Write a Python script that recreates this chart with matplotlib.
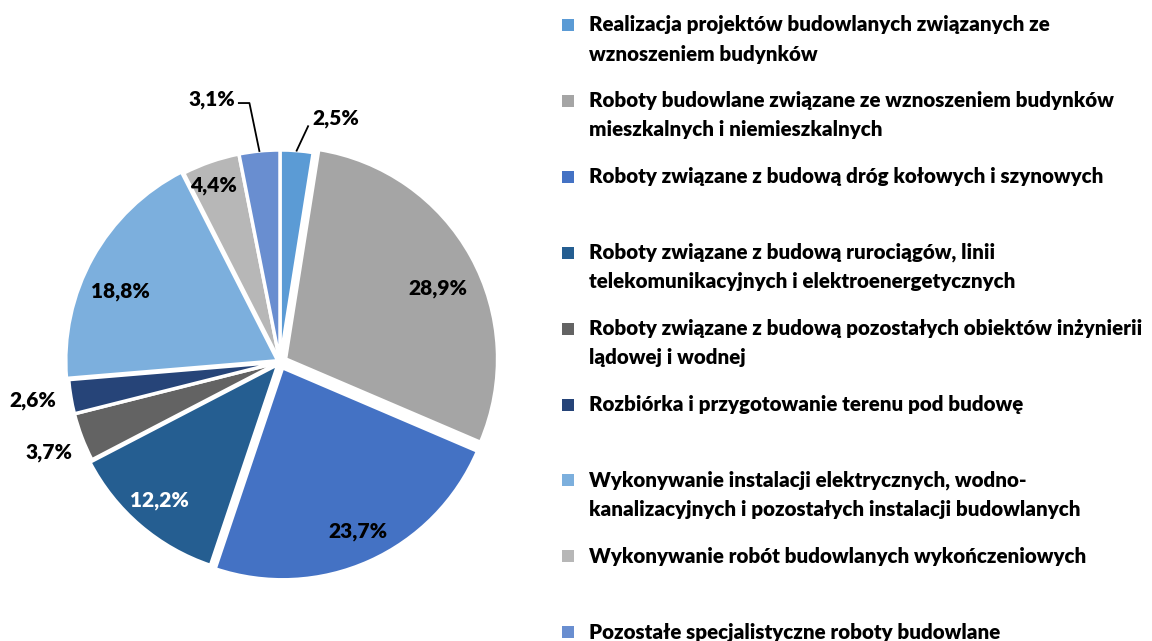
import numpy as np
import matplotlib.pyplot as plt
from matplotlib.patches import Rectangle

plt.rcParams['font.family'] = ['Lato', 'DejaVu Sans']
plt.rcParams['font.weight'] = 'heavy'

categories = [
    'Realizacja projektów budowlanych związanych ze\nwznoszeniem budynków',
    'Roboty budowlane związane ze wznoszeniem budynków\nmieszkalnych i niemieszkalnych',
    'Roboty związane z budową dróg kołowych i szynowych',
    'Roboty związane z budową rurociągów, linii\ntelekomunikacyjnych i elektroenergetycznych',
    'Roboty związane z budową pozostałych obiektów inżynierii\nlądowej i wodnej',
    'Rozbiórka i przygotowanie terenu pod budowę',
    'Wykonywanie instalacji elektrycznych, wodno-\nkanalizacyjnych i pozostałych instalacji budowlanych',
    'Wykonywanie robót budowlanych wykończeniowych',
    'Pozostałe specjalistyczne roboty budowlane',
]
shares = [2.5, 28.9, 23.7, 12.2, 3.7, 2.6, 18.8, 4.4, 3.1]
colors = ['#5B9BD5', '#A5A5A5', '#4472C4', '#255E91', '#636363',
          '#264478', '#7CAFDD', '#B7B7B7', '#698ED0']
text_colors = ['black', 'black', 'black', 'white', 'black',
               'black', 'black', 'black', 'black']

# styling per slice
explode = [0, 0.03, 0.03, 0.015, 0, 0, 0.012, 0, 0]
label_r = [1.18, 0.79, 0.85, 0.85, 1.17, 1.18, 0.81, 0.89, 1.28]
label_da = [-8.5, -4, 0.5, -0.5, 0.5, -0.7, 5.4, 1.6, 9]

W, H = 1152, 641
fig = plt.figure(figsize=(W / 100, H / 100), dpi=100)

cx, cy, R = 280, 362, 212
half = 230
ax = fig.add_axes([(cx - half) / W, (H - cy - half) / H, 2 * half / W, 2 * half / H])
wedges, _ = ax.pie(shares, colors=colors, startangle=90, counterclock=False,
                   explode=explode, radius=1.0,
                   wedgeprops=dict(edgecolor='white', linewidth=2.5))
ax.set_xlim(-half / R, half / R)
ax.set_ylim(-half / R, half / R)
ax.set_aspect('equal')
ax.axis('off')

for i, w in enumerate(wedges):
    mid = np.deg2rad((w.theta1 + w.theta2) / 2)
    ox, oy = w.center
    ang = mid + np.deg2rad(label_da[i])
    tx = ox + label_r[i] * np.cos(ang)
    ty = oy + label_r[i] * np.sin(ang)
    txt = f'{shares[i]:.1f}%'.replace('.', ',')
    ax.text(tx, ty, txt, ha='center', va='center', fontsize=15,
            color=text_colors[i])

# leader lines for the two small top slices
m0 = np.deg2rad((wedges[0].theta1 + wedges[0].theta2) / 2)
ax.plot([np.cos(m0), 1.12 * np.cos(m0 - 0.04)],
        [np.sin(m0), 1.12 * np.sin(m0 - 0.04)], color='black', lw=1.3, clip_on=False)
m8 = np.deg2rad((wedges[8].theta1 + wedges[8].theta2) / 2)
ex, ey = 1.23 * np.cos(m8 + 0.02), 1.23 * np.sin(m8 + 0.02)
ax.plot([np.cos(m8), ex, ex - 0.05], [np.sin(m8), ey, ey], color='black', lw=1.3,
        clip_on=False)

# legend drawn by hand, evenly spaced entries
y0, step, line_h = 25, 75.9, 29
for i, name in enumerate(categories):
    yc = y0 + i * step
    fig.add_artist(Rectangle((562 / W, 1 - (yc + 6) / H), 12 / W, 12 / H,
                             transform=fig.transFigure, color=colors[i], lw=0))
    for j, line in enumerate(name.split('\n')):
        fig.text(589 / W, 1 - (yc + j * line_h) / H, line, ha='left', va='center',
                 fontsize=14.8, color='black')

fig.savefig('out.png', dpi=100)
